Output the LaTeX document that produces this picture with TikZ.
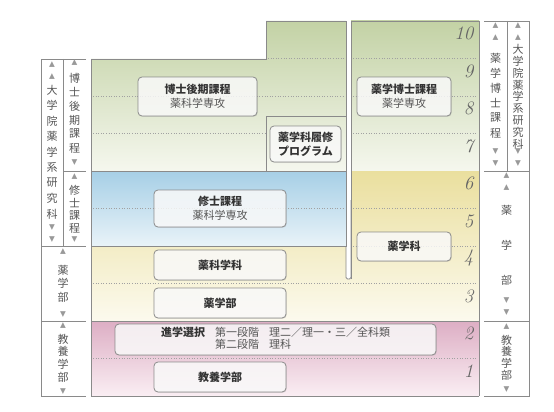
\documentclass[tikz,border=0pt]{standalone}
\usepackage{fontspec}
\newfontfamily\jp{Noto Sans CJK JP}
\newfontfamily\sym{DejaVu Sans}
\usetikzlibrary{shadows}
\definecolor{rule}{HTML}{8A8A8A}
\definecolor{grtop}{HTML}{C3D2A5}
\definecolor{grbot}{HTML}{F5F7EE}
\definecolor{bltop}{HTML}{A6CFE6}
\definecolor{blbot}{HTML}{E9F3F8}
\definecolor{yetop}{HTML}{EADF9E}
\definecolor{yebot}{HTML}{FCFAEE}
\definecolor{pitop}{HTML}{DDAEC4}
\definecolor{pibot}{HTML}{FAEEF3}
\definecolor{ink}{HTML}{333333}
\definecolor{sub}{HTML}{555555}

\tikzset{
  course/.style={draw=rule, line width=.8pt, rounded corners=4pt, fill=white,
    fill opacity=.8, text opacity=1, align=center, inner sep=0pt,
    drop shadow={shadow xshift=.8pt, shadow yshift=-.8pt, opacity=.2},
    font=\jp\fontsize{11}{14}\selectfont, text=ink},
  year/.style={font=\itshape\fontsize{19}{19}\selectfont, text=black!60, anchor=east},
  side/.style={font=\jp\fontsize{11}{11}\selectfont, text=sub, inner sep=0pt},
  tri/.style={font=\sym\fontsize{7.5}{12}\selectfont, text=black!40, align=center, inner sep=0pt},
  dots/.style={rule!80, dotted, line width=.6pt},
  frame/.style={draw=rule, line width=.8pt}
}

\begin{document}
\begin{tikzpicture}[x=1pt,y=-1pt]
   \useasboundingbox (0,0) rectangle (554,412);

   % colour bands
   \shade[top color=grtop, bottom color=grbot]
   (91,59) -- (266,59) -- (266,21) -- (346,21) -- (346,171) -- (91,171) -- cycle;
   \shade[top color=grtop, bottom color=grbot] (351,21) rectangle (479,171);
   \shade[top color=bltop, bottom color=blbot] (91,171) rectangle (346,246);
   \shade[top color=yetop, bottom color=yebot]
   (351,171) -- (479,171) -- (479,321) -- (91,321) -- (91,246) -- (346,246)
   -- (346,279) -- (351,279) -- cycle;
   \shade[top color=pitop, bottom color=pibot] (91,321) rectangle (479,396);

   % year lines
   \draw[dots] (268,58.5) -- (344,58.5);
   \foreach \y in {58.5,96,133.5,208.5,246}
      \draw[dots] (353,\y) -- (477,\y);
   \draw[dots] (93,96) -- (344,96);
   \draw[dots] (93,133.5) -- (266,133.5);
   \draw[dots] (93,208.5) -- (344,208.5);
   \foreach \y in {283.5,358.5}
      \draw[dots] (93,\y) -- (477,\y);

   % outlines
   \draw[frame] (91,171) -- (91,59) -- (266,59) -- (266,21) -- (346,21) -- (346,171);
   \draw[frame] (266,171) -- (266,116) -- (346,116);
   \draw[frame] (351,279) -- (351,21) -- (479,21) -- (479,396);
   \draw[frame] (91,171) rectangle (346,246);
   \draw[frame, rounded corners=1.5pt] (346,246) -- (346,279) -- (351,279) -- (351,200);
   \draw[frame] (91,246) -- (91,396) -- (479,396);
   \draw[frame] (91,321) -- (479,321);

   % year numbers
   \foreach \n in {1,...,10}
      \node[year] (y\n) at (477,{371-(\n-1)*37.5}) {\n};

   % courses
   \node[course, minimum width=119pt, minimum height=39pt] (phd) at (197.5,96.5)
      {\textbf{博士後期課程}\\\textcolor{sub}{薬科学専攻}};
   \node[course, minimum width=71pt, minimum height=36pt] (prog) at (305.5,144)
      {\textbf{薬学科履修}\\\textbf{プログラム}};
   \node[course, minimum width=94pt, minimum height=39pt] (pharmphd) at (404,96.5)
      {\textbf{薬学博士課程}\\\textcolor{sub}{薬学専攻}};
   \node[course, minimum width=132pt, minimum height=37pt] (master) at (220,208.5)
      {\textbf{修士課程}\\\textcolor{sub}{薬科学専攻}};
   \node[course, minimum width=94pt, minimum height=29pt] (pharm) at (404,246.5)
      {\textbf{薬学科}};
   \node[course, minimum width=132pt, minimum height=30pt] (sci) at (220,265)
      {\textbf{薬科学科}};
   \node[course, minimum width=132pt, minimum height=30pt] (fac) at (220,303)
      {\textbf{薬学部}};
   \node[course, minimum width=321pt, minimum height=31pt] (select) at (275.5,339.5)
      {\begin{tabular}{@{}l@{\hspace{10pt}}l@{\hspace{10pt}}l@{}}
       \textbf{進学選択} & \textcolor{sub}{第一段階} & \textcolor{sub}{理二／理一・三／全科類}\\[-2pt]
       & \textcolor{sub}{第二段階} & \textcolor{sub}{理科}
       \end{tabular}};
   \node[course, minimum width=132pt, minimum height=30pt] (lib) at (220,377)
      {\textbf{教養学部}};

   % left side labels
   \draw[frame] (86,59) -- (41,59) -- (41,396) -- (86,396);
   \draw[frame] (63,59) -- (63,246);
   \draw[frame] (63,171) -- (86,171);
   \draw[frame] (41,246) -- (86,246);
   \draw[frame] (41,321) -- (86,321);

   \node[tri] (gradLup) at (52,70.5) {▲\\▲};
   \foreach \c [count=\i] in {大,学,院,薬,学,系,研,究,科}
      \node[side] (gradL\i) at (52,{90+(\i-1)*15.5}) {\c};
   \node[tri] (gradLdn) at (52,234) {▼\\▼};
   \node[tri] (phdLup) at (74.5,63) {▲};
   \foreach \c [count=\i] in {博,士,後,期,課,程}
      \node[side] (phdL\i) at (74.5,{78+(\i-1)*14}) {\c};
   \node[tri] (phdLdn) at (74.5,163) {▼};
   \node[tri] (mstLup) at (74.5,177) {▲};
   \foreach \c [count=\i] in {修,士,課,程}
      \node[side] (mstL\i) at (74.5,{190+(\i-1)*12.7}) {\c};
   \node[tri] (mstLdn) at (74.5,240) {▼};
   \node[tri] (facLup) at (63,252) {▲};
   \foreach \c [count=\i] in {薬,学,部}
      \node[side] (facL\i) at (63,{270+(\i-1)*13.5}) {\c};
   \node[tri] (facLdn) at (63,315) {▼};
   \node[tri] (libLup) at (63,326) {▲};
   \foreach \c [count=\i] in {教,養,学,部}
      \node[side] (libL\i) at (63,{339+(\i-1)*12.7}) {\c};
   \node[tri] (libLdn) at (63,392) {▼};

   % right side labels
   \draw[frame] (484,21) -- (529,21) -- (529,396) -- (484,396);
   \draw[frame] (507,21) -- (507,171);
   \draw[frame] (484,171) -- (529,171);
   \draw[frame] (484,321) -- (529,321);

   \node[tri] (phdRup) at (495.5,32) {▲\\▲};
   \foreach \c [count=\i] in {薬,学,博,士,課,程}
      \node[side] (phdR\i) at (495.5,{58+(\i-1)*15}) {\c};
   \node[tri] (phdRdn) at (495.5,158) {▼\\▼};
   \node[tri] (gradRup) at (518,32) {▲\\▲};
   \foreach \c [count=\i] in {大,学,院,薬,学,系,研,究,科}
      \node[side] (gradR\i) at (518,{49.5+(\i-1)*11.8}) {\c};
   \node[tri] (gradRdn) at (518,158) {▼\\▼};
   \node[tri] (facRup) at (506.5,181.5) {▲\\▲};
   \foreach \c [count=\i] in {薬,学,部}
      \node[side] (facR\i) at (506.5,{210+(\i-1)*35}) {\c};
   \node[tri] (facRdn) at (506.5,306.5) {▼\\▼};
   \node[tri] (libRup) at (506.5,327) {▲};
   \foreach \c [count=\i] in {教,養,学,部}
      \node[side] (libR\i) at (506.5,{340+(\i-1)*11.7}) {\c};
   \node[tri] (libRdn) at (506.5,390) {▼};

 \end{tikzpicture}
\end{document}
